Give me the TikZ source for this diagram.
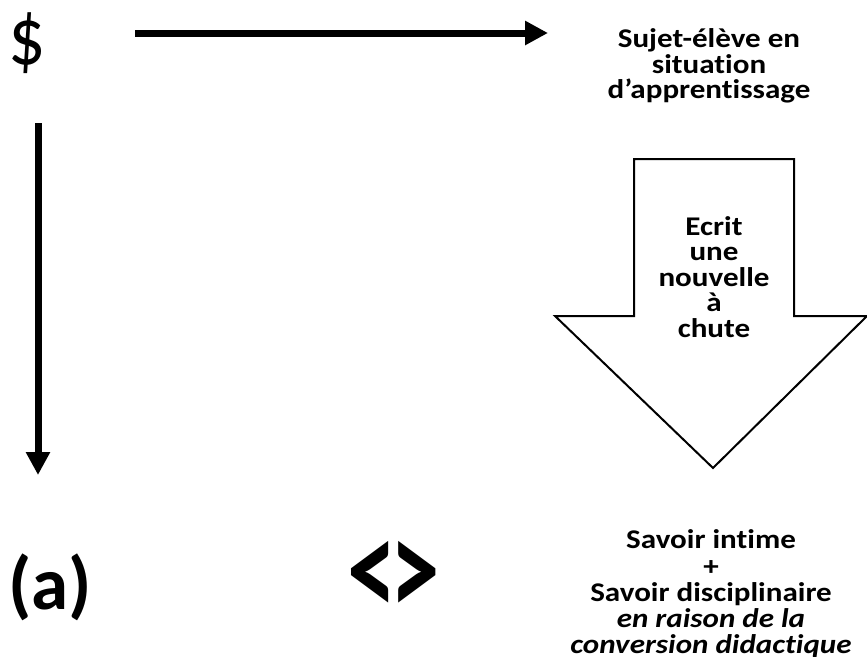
\documentclass[tikz,border=0pt]{standalone}
\usepackage{fontspec}
\setmainfont{Carlito}[FakeStretch=1.15, Ligatures=CommonOff]
\newfontfamily\glyphfont{Carlito}
\usetikzlibrary{arrows.meta}

\begin{document}
\begin{tikzpicture}[x=1pt, y=-1pt,
    txt/.style={align=center, font=\bfseries\fontsize{27}{25.5}\selectfont, inner sep=0pt},
    big/.style={font=\glyphfont\bfseries\fontsize{#1}{#1}\selectfont, inner sep=0pt},
    arr/.style={line width=7pt, -{Triangle[length=23pt, width=23pt]}}
]
    \useasboundingbox (0,0) rectangle (867,656);

    \node[font=\glyphfont\fontsize{82}{82}\selectfont, inner sep=0pt] (dollar) at (27,43) {\scalebox{0.9}[1]{\$}};
    \node[big=75] (amark) at (50,587) {(a)};
    \node[big=90] (neq) at (394,579) {\scalebox{1.1}[1.55]{<\kern-6pt>}};

    \node[txt] (sujet) at (709,66) {Sujet-élève en\\situation\\d’apprentissage};
    \node[txt, font=\bfseries\fontsize{27}{26.2}\selectfont] (savoir) at (711,594) {Savoir intime\\+\\Savoir disciplinaire\\\textit{en raison de la}\\\textit{conversion didactique}};

    % block arrow
    \draw[line width=2pt, fill=white]
        (634,159) -- (794,159) -- (794,316) -- (867,316) -- (713,468)
        -- (555,316) -- (634,316) -- cycle;
    \node[txt] (ecrit) at (714,277) {Ecrit\\une\\nouvelle\\à\\chute};

    \coordinate (hstart) at (135,33);
    \coordinate (hend) at (548,33);
    \coordinate (vstart) at (38,123);
    \coordinate (vend) at (38,475);
    \draw[arr] (hstart) -- (hend);
    \draw[arr] (vstart) -- (vend);
\end{tikzpicture}
\end{document}
